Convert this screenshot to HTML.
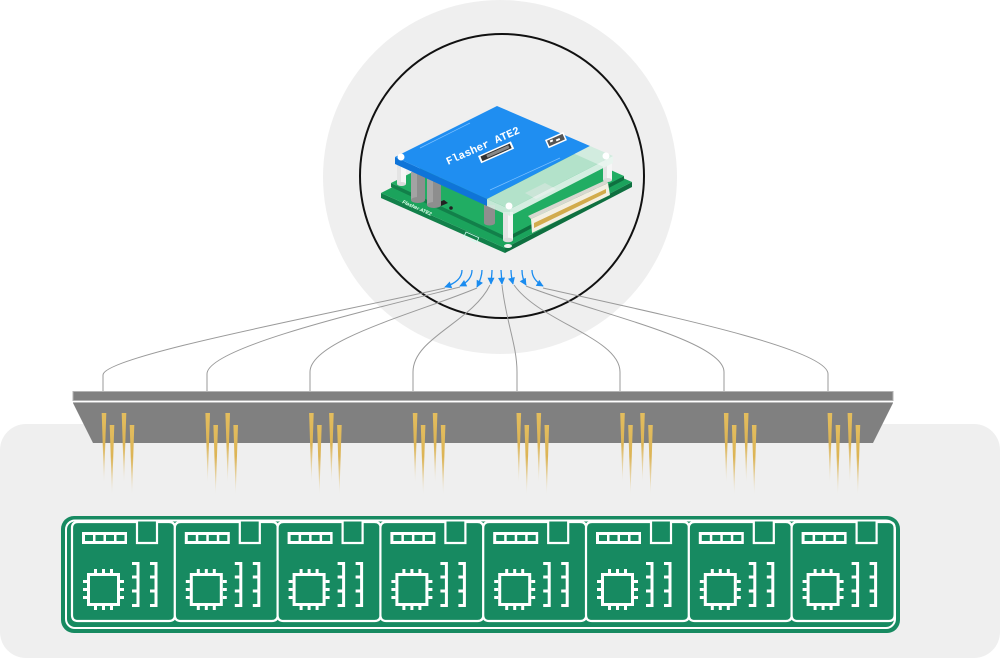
<!DOCTYPE html>
<html><head><meta charset="utf-8"><style>html,body{margin:0;padding:0;background:#fff}svg{display:block}</style></head>
<body>
<svg width="1000" height="658" viewBox="0 0 1000 658" xmlns="http://www.w3.org/2000/svg">
<defs>
<linearGradient id="pin" x1="0" y1="0" x2="0" y2="1">
<stop offset="0" stop-color="#e3bd5e"/>
<stop offset="0.45" stop-color="#dcb455"/>
<stop offset="1" stop-color="#dcb455" stop-opacity="0"/>
</linearGradient>
<marker id="ah" viewBox="0 0 10 10" refX="9" refY="5" markerWidth="8" markerHeight="7" markerUnits="userSpaceOnUse" orient="auto"><path d="M0,0 L10,5 L0,10 z" fill="#1a8cf0"/></marker>
<g id="pg">
<polygon points="-2.3,413 2.3,413 0,483" fill="url(#pin)"/>
<polygon points="5.7,425 10.3,425 8,495" fill="url(#pin)"/>
<polygon points="17.7,413 22.3,413 20,483" fill="url(#pin)"/>
<polygon points="25.7,425 30.3,425 28,495" fill="url(#pin)"/>
</g>
<g id="bd">
<path d="M6,522 H65 V543 H85 V522 H97 Q103,522 103,528 V615 Q103,621 97,621 H6 Q0,621 0,615 V528 Q0,522 6,522 Z" fill="#178a61" stroke="#fff" stroke-width="2.2"/>
<rect x="10" y="532" width="45" height="12" fill="#fff"/>
<rect x="13" y="535" width="8" height="6" fill="#178a61"/>
<rect x="23.5" y="535" width="8" height="6" fill="#178a61"/>
<rect x="34" y="535" width="8" height="6" fill="#178a61"/>
<rect x="44.5" y="535" width="8" height="6" fill="#178a61"/>
<rect x="16.5" y="574.5" width="30" height="30" fill="#178a61" stroke="#fff" stroke-width="3"/>
<g fill="#fff">
<rect x="11" y="580" width="4" height="3"/><rect x="11" y="588" width="4" height="3"/><rect x="11" y="596" width="4" height="3"/>
<rect x="48" y="580" width="4" height="3"/><rect x="48" y="588" width="4" height="3"/><rect x="48" y="596" width="4" height="3"/>
<rect x="22" y="569" width="3" height="4"/><rect x="30" y="569" width="3" height="4"/><rect x="38" y="569" width="3" height="4"/>
<rect x="22" y="606" width="3" height="4"/><rect x="30" y="606" width="3" height="4"/><rect x="38" y="606" width="3" height="4"/>
</g>
<path d="M66,562 V607 M60,563.5 H66 M60,577 H66 M60,591 H66 M60,605.5 H66 M84,562 V607 M78,563.5 H84 M78,577 H84 M78,591 H84 M78,605.5 H84" stroke="#fff" stroke-width="3" fill="none"/>
</g>
</defs>

<!-- backgrounds -->
<circle cx="500" cy="177" r="177" fill="#efefef"/>
<rect x="0" y="424" width="1000" height="234" rx="26" fill="#efefef"/>
<circle cx="502" cy="176" r="142" fill="none" stroke="#111" stroke-width="2"/>

<!-- module: lower PCB -->
<polygon points="381,193 505,248 505,253 381,198" fill="#12804a"/>
<polygon points="505,248 632,182 632,187 505,253" fill="#0f7040"/>
<polygon points="381,193 508,128 632,182 505,248" fill="#1ba35c"/>
<!-- upper PCB -->
<polygon points="391,183 507,237 507,241 391,187" fill="#12804a"/>
<polygon points="507,237 624,176 624,180 507,241" fill="#0f7040"/>
<polygon points="391,183 508,124 624,176 507,237" fill="#21ad63"/>
<text x="0" y="0" transform="translate(402,203) rotate(24)" font-family="Liberation Sans, sans-serif" font-size="5" font-style="italic" font-weight="bold" fill="#e8fff0">Flasher ATE2</text>
<rect x="0" y="0" width="14" height="5" transform="translate(466,232) rotate(24)" fill="none" stroke="#cfe" stroke-width="0.8"/>
<!-- components -->
<polygon points="437,203 444,200 448,203 441,206" fill="#222"/>
<circle cx="432" cy="201" r="1.8" fill="#222"/>
<circle cx="451" cy="208" r="1.8" fill="#222"/>
<polygon points="525,193 545,183 556,189 536,199" fill="#b8c4bc"/>
<g fill="#2a2a2a">
<polygon points="540,216 547,212 551,214 544,218"/>
<polygon points="552,210 559,206 563,208 556,212"/>
<polygon points="564,204 571,200 575,202 568,206"/>
<polygon points="576,198 583,194 587,196 580,200"/>
<polygon points="587,192 594,188 598,190 591,194"/>
<polygon points="597,187 604,183 608,185 601,189"/>
</g>
<!-- capacitors -->
<rect x="411" y="172" width="14" height="28" fill="#8e8e8e"/>
<rect x="411" y="172" width="6" height="28" fill="#a3a3a3"/>
<ellipse cx="418" cy="200" rx="7" ry="3" fill="#8e8e8e"/>
<rect x="427" y="177" width="14" height="28" fill="#8e8e8e"/>
<rect x="427" y="177" width="6" height="28" fill="#a3a3a3"/>
<ellipse cx="434" cy="205" rx="7" ry="3" fill="#8e8e8e"/>
<rect x="484" y="205" width="11" height="18" fill="#8e8e8e"/>
<ellipse cx="489.5" cy="223" rx="5.5" ry="2.5" fill="#8e8e8e"/>
<!-- standoffs -->
<rect x="397" y="160" width="9" height="24" fill="#e4e4e4"/><rect x="401" y="160" width="5" height="24" fill="#f6f6f6"/>
<ellipse cx="401.5" cy="184" rx="4.5" ry="2" fill="#dcdcdc"/>
<rect x="603" y="158" width="9" height="22" fill="#e4e4e4"/><rect x="607" y="158" width="5" height="22" fill="#f6f6f6"/>
<ellipse cx="607.5" cy="180" rx="4.5" ry="2" fill="#dcdcdc"/>
<rect x="503" y="212" width="10" height="28" fill="#e4e4e4"/><rect x="508" y="212" width="5" height="28" fill="#f6f6f6"/>
<ellipse cx="508" cy="240" rx="5" ry="2.3" fill="#dcdcdc"/>
<ellipse cx="508" cy="246" rx="4" ry="2" fill="#f2f2f2"/>
<!-- connector -->
<polygon points="528,216 606,180 608,183 531,219" fill="#d8d8d0"/>
<polygon points="531,219 608,183 610,195 532,233" fill="#f3efe2"/>
<polygon points="534,223 606,189 606,193 534,228" fill="#d2ab4c"/>
<!-- top plate -->
<polygon points="395,157 487,199 487,206 395,164" fill="#0f74d8"/>
<polygon points="487,199 510,209 510,216 487,206" fill="#d6eee2" opacity="0.9"/>
<polygon points="510,209 613,156 613,163 510,216" fill="#e8f5ee" opacity="0.9"/>
<polygon points="395,157 497,106 590,146 487,199" fill="#1f8ef1"/>
<polygon points="590,146 613,156 510,209 487,199" fill="#cdebdc" opacity="0.85"/>
<path d="M420,148 L470,123" stroke="#7cc0ff" stroke-width="0.7" fill="none"/>
<path d="M490,190 L560,158" stroke="#7cc0ff" stroke-width="0.7" fill="none"/>
<circle cx="401" cy="157" r="3.5" fill="#fff"/>
<circle cx="606" cy="156" r="3.5" fill="#fff"/>
<circle cx="509" cy="206" r="3.5" fill="#fff"/>
<text x="0" y="0" transform="translate(448,165) rotate(-24)" font-family="Liberation Mono, monospace" font-size="11" font-weight="bold" fill="#ffffff">Flasher ATE2</text>
<g transform="translate(478,156) rotate(-24)">
<rect x="0" y="0" width="36" height="8" fill="#fff"/>
<rect x="2" y="1.5" width="32" height="5" fill="#333"/>
<rect x="8" y="2.5" width="24" height="3" fill="#888"/>
</g>
<g transform="translate(545,140) rotate(-24)">
<rect x="0" y="0" width="20" height="9" fill="#fff"/>
<rect x="1.5" y="1.5" width="17" height="6" fill="#555"/>
<rect x="4" y="2.5" width="3" height="2" fill="#fff"/><rect x="10" y="4" width="4" height="2" fill="#fff"/>
</g>

<!-- wires -->
<g fill="none" stroke="#9a9a9a" stroke-width="1">
<path d="M445,288 C330,314 103,356 103,375 L103,392"/>
<path d="M460,287 C360,312 207,348 207,374 L207,392"/>
<path d="M477,288 C420,312 310,340 310,372 L310,392"/>
<path d="M490,285 C472,322 413,338 413,372 L413,392"/>
<path d="M502,285 C506,322 517,345 517,372 L517,392"/>
<path d="M514,285 C540,322 620,338 620,372 L620,392"/>
<path d="M526,286 C590,312 724,340 724,372 L724,392"/>
<path d="M543,288 C650,312 828,348 828,374 L828,392"/>
</g>
<!-- blue arrows -->
<g fill="none" stroke="#1a8cf0" stroke-width="1.3" marker-end="url(#ah)">
<path d="M462,270 C462,278 456,283 445,287"/>
<path d="M472,270 C472,277 468,282 460,286"/>
<path d="M482,270 C482,276 480,281 477,287"/>
<path d="M492,270 C492,275 491,280 491,284"/>
<path d="M501,270 L502,284"/>
<path d="M511,270 C511,275 512,280 513,284"/>
<path d="M522,270 C522,276 523,280 526,285"/>
<path d="M532,270 C532,277 536,282 543,286"/>
</g>

<!-- bar -->
<rect x="73" y="391.5" width="820" height="9" fill="#808080" stroke="#b3b3b3" stroke-width="1"/>
<polygon points="73,403 893,403 873,443 93,443" fill="#808080"/>
<line x1="73" y1="402.5" x2="893" y2="402.5" stroke="#b8b8b8" stroke-width="1"/>

<!-- pins -->
<use href="#pg" x="104"/>
<use href="#pg" x="207.7"/>
<use href="#pg" x="311.4"/>
<use href="#pg" x="415.1"/>
<use href="#pg" x="518.8"/>
<use href="#pg" x="622.5"/>
<use href="#pg" x="726.2"/>
<use href="#pg" x="829.9"/>

<!-- boards -->
<rect x="61" y="516" width="839" height="117" rx="13" fill="#178a61"/>
<rect x="66" y="520.5" width="829" height="107.5" rx="9" fill="none" stroke="#fff" stroke-width="2"/>
<use href="#bd" x="72"/>
<use href="#bd" x="174.8"/>
<use href="#bd" x="277.6"/>
<use href="#bd" x="380.4"/>
<use href="#bd" x="483.2"/>
<use href="#bd" x="586"/>
<use href="#bd" x="688.8"/>
<use href="#bd" x="791.6"/>
</svg>
</body></html>
